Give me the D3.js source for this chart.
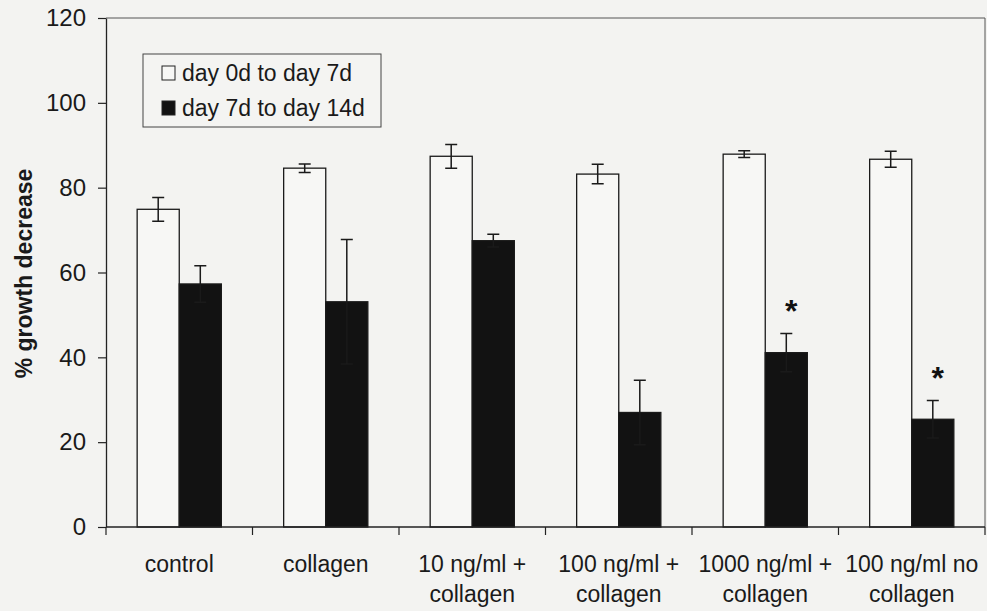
<!DOCTYPE html>
<html>
<head>
<meta charset="utf-8">
<script src="https://cdn.jsdelivr.net/npm/d3@7"></script>
<style>
  html, body { margin: 0; padding: 0; background: #f3f3f1; }
  svg { display: block; font-family: Arial, "Liberation Sans", sans-serif; }
</style>
</head>
<body>
<div id="chart"></div>
<script>
// Data
var categories = ['control', 'collagen', '10 ng/ml + collagen', '100 ng/ml + collagen',
                  '1000 ng/ml + collagen', '100 ng/ml no collagen'];
var categoryLines = [['control'], ['collagen'], ['10 ng/ml +', 'collagen'], ['100 ng/ml +', 'collagen'],
                     ['1000 ng/ml +', 'collagen'], ['100 ng/ml no', 'collagen']];
var seriesNames = ['day 0d to day 7d', 'day 7d to day 14d'];
var week1 = [74.9, 84.6, 87.4, 83.2, 87.9, 86.7];
var week1Err = [2.8, 1.0, 2.8, 2.3, 0.8, 1.9];
var week2 = [57.3, 53.1, 67.5, 27.0, 41.1, 25.4];
var week2Err = [4.3, 14.7, 1.5, 7.6, 4.5, 4.4];
var significant = [false, false, false, false, true, true];
var yTicks = [0, 20, 40, 60, 80, 100, 120];

var width = 987, height = 611;
var plotLeft = 106, plotRight = 985, plotTop = 18, plotBottom = 527;

var svg = d3.select('#chart')
  .append('svg')
  .attr('width', width)
  .attr('height', height);

var x0 = d3.scaleBand()
  .domain(categories)
  .range([plotLeft, plotRight])
  .paddingInner(0)
  .paddingOuter(0);

var x1 = d3.scaleBand()
  .domain(seriesNames)
  .range([0, x0.bandwidth()])
  .paddingInner(0)
  .paddingOuter(0.74);

var y = d3.scaleLinear()
  .domain([0, 120])
  .range([plotBottom, plotTop]);

var z = d3.scaleOrdinal()
  .domain(seriesNames)
  .range(['#f7f7f5', '#121212']);

// plot frame (top and right)
svg.append('path')
  .attr('d', 'M' + plotLeft + ',' + plotTop + 'H' + plotRight + 'V' + plotBottom)
  .attr('fill', 'none')
  .attr('stroke', '#555')
  .attr('stroke-width', 1);

// bars
var rows = categories.map(function(c, i) {
  return {
    cat: c,
    bars: [
      {key: seriesNames[0], value: week1[i], err: week1Err[i]},
      {key: seriesNames[1], value: week2[i], err: week2Err[i]}
    ]
  };
});

var groups = svg.append('g')
  .selectAll('g')
  .data(rows)
  .enter()
  .append('g')
  .attr('transform', function(d) { return 'translate(' + x0(d.cat) + ',0)'; });

groups.selectAll('rect')
  .data(function(d) { return d.bars; })
  .enter()
  .append('rect')
  .attr('x', function(d) { return x1(d.key); })
  .attr('y', function(d) { return y(d.value); })
  .attr('width', x1.bandwidth())
  .attr('height', function(d) { return y(0) - y(d.value); })
  .attr('fill', function(d) { return z(d.key); })
  .attr('stroke', '#1a1a1a')
  .attr('stroke-width', 1.3);

// error bars
var capW = 6;
groups.selectAll('path.err')
  .data(function(d) { return d.bars; })
  .enter()
  .append('path')
  .attr('class', 'err')
  .attr('d', function(d) {
    var cx = x1(d.key) + x1.bandwidth() / 2,
        y1 = y(d.value + d.err),
        y2 = y(d.value - d.err);
    return 'M' + cx + ',' + y1 + 'V' + y2 +
           'M' + (cx - capW) + ',' + y1 + 'H' + (cx + capW) +
           'M' + (cx - capW) + ',' + y2 + 'H' + (cx + capW);
  })
  .attr('fill', 'none')
  .attr('stroke', '#1a1a1a')
  .attr('stroke-width', 1.5);

// significance stars
groups.filter(function(d, i) { return significant[i]; })
  .append('text')
  .attr('x', x1(seriesNames[1]) + x1.bandwidth() / 2 + 5)
  .attr('y', function(d) { return y(d.bars[1].value + d.bars[1].err) - 12; })
  .attr('text-anchor', 'middle')
  .attr('font-size', 32)
  .attr('font-weight', 'bold')
  .attr('fill', '#111')
  .text('*');

// y axis
var yAxis = d3.axisLeft(y)
  .tickValues(yTicks)
  .tickSizeInner(8)
  .tickSizeOuter(0)
  .tickPadding(12);

var gy = svg.append('g')
  .attr('transform', 'translate(' + plotLeft + ',0)')
  .call(yAxis);
gy.select('.domain').attr('stroke', '#222').attr('stroke-width', 1.3);
gy.selectAll('.tick line').attr('stroke', '#222').attr('stroke-width', 1.2);
gy.selectAll('.tick text')
  .attr('font-size', 24)
  .attr('fill', '#1a1a1a')
  .attr('font-family', 'Arial, "Liberation Sans", sans-serif');

// x axis: baseline with ticks on category boundaries
svg.append('line')
  .attr('x1', plotLeft).attr('x2', plotRight)
  .attr('y1', plotBottom).attr('y2', plotBottom)
  .attr('stroke', '#222').attr('stroke-width', 1.3);

svg.append('g')
  .selectAll('line')
  .data(categories)
  .enter()
  .append('line')
  .attr('x1', function(d) { return x0(d) + x0.bandwidth(); })
  .attr('x2', function(d) { return x0(d) + x0.bandwidth(); })
  .attr('y1', plotBottom)
  .attr('y2', plotBottom + 8)
  .attr('stroke', '#222')
  .attr('stroke-width', 1.2);

svg.append('line')
  .attr('x1', plotLeft).attr('x2', plotLeft)
  .attr('y1', plotBottom).attr('y2', plotBottom + 8)
  .attr('stroke', '#222').attr('stroke-width', 1.2);

var labels = svg.append('g')
  .selectAll('text')
  .data(categories)
  .enter()
  .append('text')
  .attr('x', function(d) { return x0(d) + x0.bandwidth() / 2; })
  .attr('y', 572)
  .attr('text-anchor', 'middle')
  .attr('font-size', 23)
  .attr('fill', '#1a1a1a');

labels.selectAll('tspan')
  .data(function(d, i) { return categoryLines[i]; })
  .enter()
  .append('tspan')
  .attr('x', function() { return d3.select(this.parentNode).attr('x'); })
  .attr('dy', function(d, i) { return i === 0 ? 0 : 30; })
  .text(function(d) { return d; });

// y axis title
svg.append('text')
  .attr('transform', 'translate(32,' + ((plotTop + plotBottom) / 2 + 1) + ') rotate(-90)')
  .attr('text-anchor', 'middle')
  .attr('font-size', 23)
  .attr('font-weight', 'bold')
  .attr('fill', '#1a1a1a')
  .text('% growth decrease');

// legend
var legend = svg.append('g')
  .attr('class', 'legend');

legend.append('rect')
  .attr('x', 143).attr('y', 54)
  .attr('width', 238).attr('height', 73)
  .attr('fill', '#f4f4f2')
  .attr('stroke', '#444')
  .attr('stroke-width', 1);

var items = legend.selectAll('g')
  .data(seriesNames)
  .enter()
  .append('g')
  .attr('transform', function(d, i) { return 'translate(162,' + (66 + i * 35) + ')'; });

items.append('rect')
  .attr('width', 13)
  .attr('height', 14)
  .attr('fill', z)
  .attr('stroke', '#222')
  .attr('stroke-width', 1);

items.append('text')
  .attr('x', 20)
  .attr('y', 7)
  .attr('dy', '0.35em')
  .attr('font-size', 23)
  .attr('fill', '#1a1a1a')
  .text(function(d) { return d; });
</script>
</body>
</html>
